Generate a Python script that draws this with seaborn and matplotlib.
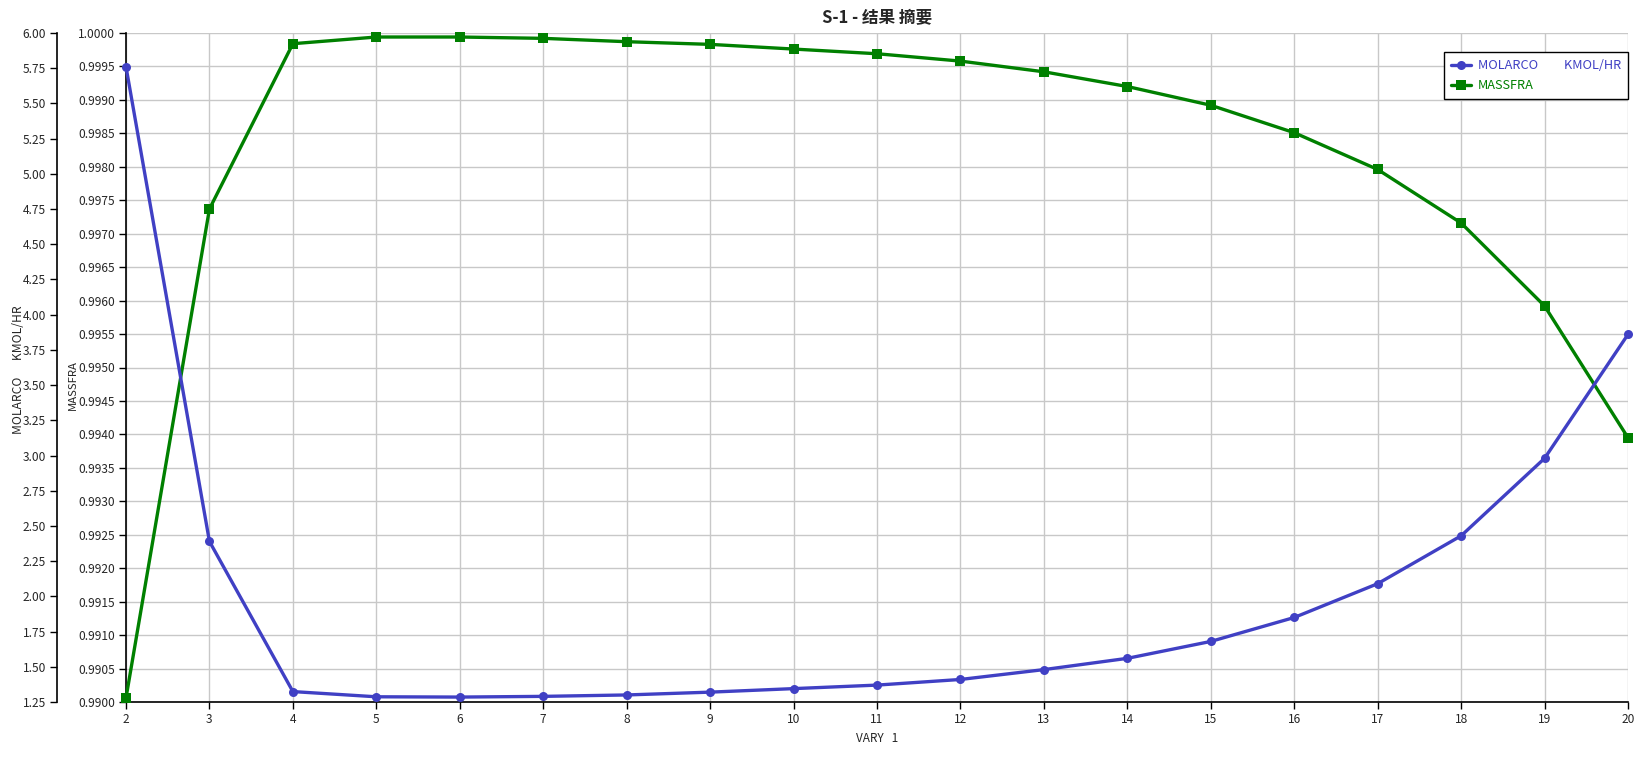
import matplotlib
matplotlib.use("Agg")
import matplotlib.pyplot as plt
import seaborn as sns
import numpy as np
import pandas as pd
from matplotlib.ticker import MultipleLocator, FormatStrFormatter

# ---- data ----
vary = [2, 3, 4, 5, 6, 7, 8, 9, 10, 11, 12, 13, 14, 15, 16, 17, 18, 19, 20]
molarco = [5.76, 2.39, 1.324, 1.287, 1.285, 1.29, 1.30, 1.32, 1.345, 1.37,
           1.41, 1.48, 1.56, 1.68, 1.85, 2.09, 2.43, 2.98, 3.86]
massfra = [0.99006, 0.99737, 0.99984, 0.99994, 0.99994, 0.99992, 0.99987,
           0.99983, 0.99976, 0.99969, 0.99958, 0.99942, 0.99920, 0.99892,
           0.99851, 0.99796, 0.99716, 0.99592, 0.99395]
title = "S-1 - 结果 摘要"
xlabel = "VARY   1"
label_mol_axis = "MOLARCO      KMOL/HR"
label_mol_legend = "MOLARCO         KMOL/HR"
label_mass = "MASSFRA"

df = pd.DataFrame({"vary": vary, "molarco": molarco, "massfra": massfra})

sns.set_style("white")
plt.rcParams['font.family'] = ['Noto Sans CJK SC', 'DejaVu Sans']

blue = "#4040C4"
green = "#008000"

W, H = 1646, 757
fig = plt.figure(figsize=(W / 100, H / 100), dpi=100)
left, right, top, bottom = 126, 1628, 33, 702
ax = fig.add_axes([left / W, (H - bottom) / H, (right - left) / W, (bottom - top) / H])

sns.lineplot(data=df, x="vary", y="massfra", ax=ax, color=green, marker="s",
             markersize=6.5, markeredgewidth=0, linewidth=2.4, label=label_mass,
             clip_on=False, zorder=3)
ax.set_xlim(2, 20)
ax.set_ylim(0.99, 1.0)
ax.xaxis.set_major_locator(MultipleLocator(1))
ax.yaxis.set_major_locator(MultipleLocator(0.0005))
ax.yaxis.set_major_formatter(FormatStrFormatter("%.4f"))
ax.grid(True, color="#C8C8C8", linewidth=1)
ax.set_axisbelow(True)
for s in ["top", "right"]:
    ax.spines[s].set_visible(False)
for s in ["left", "bottom"]:
    ax.spines[s].set_color("black")
    ax.spines[s].set_linewidth(1.2)
ax.tick_params(axis="both", which="major", direction="out", length=5, width=1,
               color="black", labelsize=8.6, pad=3, left=True, bottom=True)

ax2 = ax.twinx()
sns.lineplot(data=df, x="vary", y="molarco", ax=ax2, color=blue, marker="o",
             markersize=6.5, markeredgewidth=0, linewidth=2.4, label=label_mol_legend,
             clip_on=False, zorder=3)
ax2.set_ylim(1.25, 6.0)
ax2.yaxis.set_major_locator(MultipleLocator(0.25))
ax2.yaxis.set_major_formatter(FormatStrFormatter("%.2f"))
ax2.yaxis.set_ticks_position("left")
ax2.yaxis.set_label_position("left")
ax2.spines["left"].set_position(("outward", 69 * 72 / 100))
ax2.spines["left"].set_visible(True)
ax2.spines["left"].set_color("black")
ax2.spines["left"].set_linewidth(1.2)
for s in ["top", "right", "bottom"]:
    ax2.spines[s].set_visible(False)
ax2.tick_params(axis="y", which="major", direction="out", length=5, width=1,
                color="black", labelsize=8.6, pad=3, left=True, right=False,
                labelleft=True, labelright=False)

ax.set_xlabel(xlabel, fontsize=8.5)
ax.xaxis.set_label_coords(0.5, -0.045)
ax.set_ylabel(label_mass, fontsize=8.2)
ax.yaxis.set_label_coords((78 - left) / (right - left), (bottom - 385) / (bottom - top))
ax2.set_ylabel(label_mol_axis, fontsize=8.7)
ax2.yaxis.set_label_coords((25 - left) / (right - left), (bottom - 370) / (bottom - top))

ax.set_title(title, fontsize=12, fontweight="bold", pad=7)

# legend (combined, drawn on the top axes)
if ax.get_legend() is not None:
    ax.get_legend().remove()
h1, l1 = ax2.get_legend_handles_labels()
h0, l0 = ax.get_legend_handles_labels()
if ax2.get_legend() is not None:
    ax2.get_legend().remove()
leg = ax2.legend(h1 + h0, l1 + l0, loc="upper right",
                 bbox_to_anchor=(1.0, 1 - 19 / (bottom - top)), borderaxespad=0,
                 fancybox=False, framealpha=1, edgecolor="black", fontsize=9.2,
                 handlelength=1.6, handletextpad=0.5, borderpad=0.55,
                 labelspacing=0.55)
leg.get_frame().set_linewidth(1)
for txt, c in zip(leg.get_texts(), [blue, green]):
    txt.set_color(c)
leg.set_zorder(10)

fig.savefig("out.png", dpi=100)
